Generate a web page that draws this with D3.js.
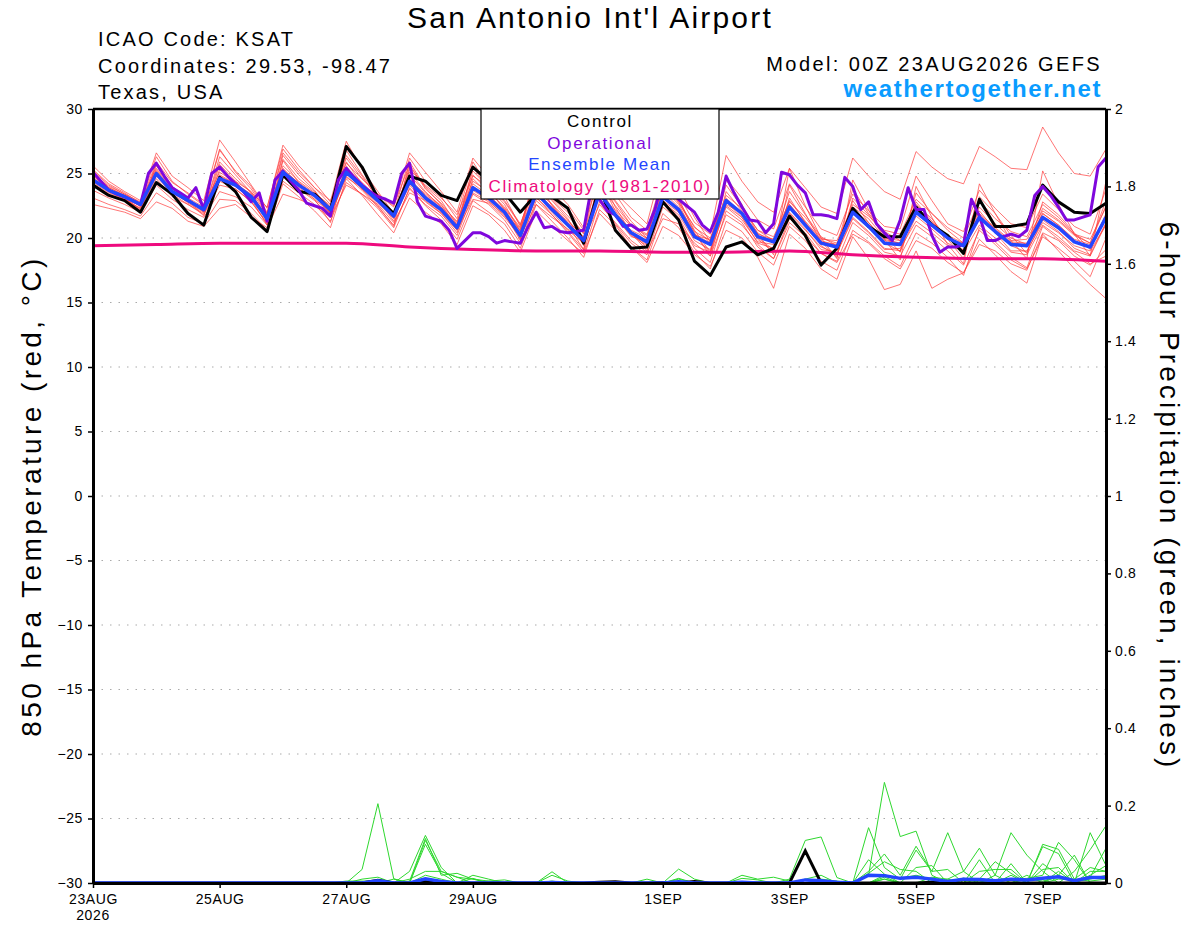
<!DOCTYPE html>
<html>
<head>
<meta charset="utf-8">
<script src="https://cdn.jsdelivr.net/npm/d3@7.9.0/dist/d3.min.js"></script>
<style>
  body { margin: 0; background: #fff; }
  svg { display: block; font-family: "Liberation Sans", Arial, Helvetica, sans-serif; }
</style>
</head>
<body>
<svg id="chart" width="1200" height="927"></svg>
<script>
// ========= Data (6-hourly from 00Z 23AUG2026, 65 steps) =========
const controlTemp = [
  24.1,23.3,22.9,22.0, 24.3,23.4,21.9,21.0, 24.7,23.6,21.6,20.5, 24.9,23.6,23.4,22.2,
  27.1,25.5,23.1,21.9, 24.8,24.4,23.3,22.9, 25.5,24.4,23.5,22.0, 23.4,23.2,22.3,19.6,
  24.0,20.6,19.2,19.3, 22.8,21.4,18.2,17.1, 19.3,19.7,18.7,19.2, 21.7,20.2,17.9,19.2,
  22.3,20.9,20.1,20.1, 22.4,21.0,20.2,18.8, 23.0,20.9,20.9,21.1, 24.1,22.8,22.0,21.9,
  22.7
];

const meanTemp = [
  24.5,23.7,23.2,22.6, 25.0,23.6,22.9,22.2, 24.6,24.1,23.2,21.5, 25.1,24.1,23.3,22.2,
  25.1,24.0,22.9,21.7, 24.4,23.1,22.2,20.8, 23.9,23.1,22.0,20.2, 23.5,22.2,21.0,19.8,
  23.5,21.8,20.4,19.7, 23.2,22.2,20.1,19.5, 22.9,21.9,20.1,19.7, 22.4,21.0,19.6,19.3,
  22.0,20.9,19.6,19.5, 22.0,21.0,20.0,19.4, 21.6,20.5,19.5,19.4, 21.6,20.8,19.7,19.3,
  21.6
];

// operational run is 3-hourly (129 steps)
const operationalTemp = [
  25.1,24.4,23.7,23.4,23.2,22.9,22.6,25.0,25.8,
  24.8,23.9,23.5,23.1,23.9,22.2,25.0,25.5,
  24.8,24.2,23.6,22.8,23.5,21.3,24.5,25.2,
  24.4,23.7,22.7,22.5,22.3,21.7,24.5,25.4,
  24.7,24.1,23.6,23.2,23.0,22.7,25.0,25.8,
  22.8,21.7,21.5,21.3,20.6,19.2,19.8,20.4,
  20.4,20.1,19.6,19.8,19.7,19.6,20.9,22.0,
  20.8,20.9,20.5,20.4,20.5,20.6,24.0,23.0,
  22.1,21.8,20.9,21.0,20.6,20.7,22.2,24.5,
  23.8,23.0,22.5,22.0,21.0,20.5,22.0,24.8,
  23.5,22.4,21.4,21.3,20.4,21.1,25.1,24.9,
  24.1,23.5,21.8,21.8,21.7,21.5,24.7,24.0,
  22.2,22.8,21.1,20.4,19.8,21.4,23.9,22.2,
  22.2,20.2,18.9,19.3,19.3,19.5,23.0,21.7,
  19.8,19.8,20.1,20.3,20.1,20.6,23.3,24.0,
  23.3,22.4,21.4,21.4,21.6,21.8,25.5,26.2
];

// climatology, daily at 00Z (17 days)
const climoTemp = [19.4,19.5,19.6,19.6,19.6,19.3,19.1,19.0,19.0,18.9,18.9,19.0,18.7,18.5,18.4,18.4,18.2];

const memberTemps = [
  [25.6,24.4,23.6,22.9, 26.6,24.8,23.9,22.9, 27.6,25.9,24.1,22.3, 27.2,25.6,24.3,22.8,
   27.5,25.3,23.6,21.9, 26.2,24.4,23.2,21.5, 25.9,24.0,22.8,21.0, 24.8,23.1,22.0,20.3,
   25.2,22.9,21.3,20.0, 24.4,22.7,20.9,19.6, 24.1,22.4,20.6,19.8, 23.6,21.8,20.1,19.4,
   23.8,21.9,20.5,19.8, 22.8,21.3,20.1,19.0, 22.4,21.1,20.0,19.5, 22.3,21.4,20.3,19.6, 22.9],
  [24.9,23.9,23.3,22.4, 25.6,24.0,23.1,22.1, 25.9,24.6,23.5,21.4, 26.1,24.6,23.6,22.3,
   26.4,24.8,23.0,21.3, 25.1,23.6,22.4,20.6, 24.6,23.4,21.9,19.8, 24.1,22.6,21.1,19.5,
   24.6,22.1,20.5,19.2, 23.9,22.6,20.3,18.8, 23.6,22.1,20.0,19.1, 23.1,21.2,19.4,18.6,
   22.9,21.2,19.6,19.0, 23.5,21.9,20.6,19.6, 22.1,20.6,19.4,18.9, 21.4,20.5,19.2,18.7, 21.2],
  [22.6,22.3,22.0,21.5, 22.8,22.3,21.3,20.9, 22.3,22.6,21.6,20.8, 23.4,23.0,22.5,21.6,
   24.1,23.4,22.6,21.2, 23.5,22.9,21.9,20.6, 23.0,22.7,21.6,20.1, 22.6,21.6,20.7,19.8,
   22.6,21.2,19.8,18.9, 21.5,21.1,19.6,18.6, 21.8,21.0,19.5,18.4, 21.2,20.1,18.8,18.1,
   20.3,19.6,18.4,17.6, 19.8,19.2,18.1,17.3, 19.5,19.0,18.0,17.5, 20.4,19.8,18.6,17.9, 19.1],
  [25.3,24.2,23.5,22.7, 26.3,24.4,23.4,22.5, 26.8,25.2,24.0,22.0, 26.6,25.1,23.9,22.9,
   25.8,24.6,23.4,22.4, 26.6,25.1,23.6,22.0, 26.2,24.7,23.2,20.9, 24.9,23.5,22.3,20.6,
   26.1,23.4,21.6,20.6, 24.7,23.3,21.2,20.3, 26.4,24.4,22.8,22.0, 25.4,23.9,22.4,21.9,
   26.2,24.8,23.6,23.0, 26.7,25.5,24.6,24.2, 27.1,26.3,25.4,25.3, 28.6,26.6,25.0,24.8, 26.9],
  [24.2,23.4,22.9,22.3, 24.6,23.2,22.6,21.8, 24.1,23.8,22.8,21.1, 24.9,23.8,22.9,21.7,
   24.8,23.7,22.4,21.0, 23.8,22.6,21.7,20.2, 23.4,22.6,21.4,19.6, 22.9,21.8,20.4,18.9,
   22.8,21.1,19.6,18.7, 22.4,21.4,19.2,18.1, 22.1,21.2,19.3,18.4, 21.5,20.4,18.8,18.2,
   21.2,20.2,18.9,18.6, 21.0,20.1,19.0,17.9, 20.6,19.5,18.3,17.6, 20.1,19.2,18.2,17.0, 20.0],
  [25.0,24.0,23.4,22.8, 25.4,23.9,23.1,22.4, 25.1,24.3,23.3,21.6, 25.6,24.4,23.5,22.5,
   25.9,24.2,23.0,21.8, 25.3,24.1,23.1,21.8, 24.8,24.0,22.9,21.1, 24.3,23.0,21.7,20.4,
   24.1,22.5,21.0,20.3, 23.8,22.9,20.8,20.0, 23.3,22.3,20.6,20.1, 22.8,21.6,20.0,19.6,
   22.6,21.7,20.6,20.3, 23.0,21.9,20.8,20.0, 22.9,21.5,20.5,20.1, 22.6,21.6,20.3,19.9, 22.4],
  [23.1,22.6,22.2,21.7, 23.5,22.7,21.6,21.1, 23.0,22.9,21.9,20.6, 24.2,23.2,22.1,20.8,
   24.6,23.3,21.8,20.4, 23.1,22.0,21.1,19.5, 22.5,21.8,20.6,18.9, 22.1,20.9,19.8,18.8,
   21.9,20.6,19.3,18.1, 20.9,20.2,18.7,17.8, 20.6,20.0,18.5,16.1, 20.3,19.2,17.6,16.8,
   20.1,18.4,16.0,16.4, 19.0,16.1,16.8,17.3, 19.9,18.7,17.4,16.5, 20.3,19.0,17.6,16.4, 15.3],
  [24.7,23.8,23.2,22.5, 25.2,23.7,22.7,22.0, 26.3,24.9,23.5,22.4, 26.9,25.3,23.9,22.6,
   26.2,24.6,23.4,22.5, 25.7,23.8,22.7,21.2, 25.2,23.9,22.6,20.5, 25.4,23.9,22.6,20.8,
   24.9,23.5,22.3,21.1, 25.8,23.9,21.6,19.7, 24.6,23.1,21.4,20.7, 24.2,22.4,20.7,20.2,
   23.4,22.1,20.9,20.7, 24.8,22.9,21.1,20.5, 23.7,22.3,21.1,20.8, 23.4,22.2,20.9,20.3, 23.8],
  [24.4,23.6,23.0,22.5, 25.0,23.5,22.8,22.3, 24.6,24.0,23.0,21.9, 25.4,24.2,23.2,21.9,
   25.0,23.8,22.7,21.5, 24.1,22.8,21.9,20.4, 23.7,22.9,21.7,20.3, 23.1,22.0,20.6,19.6,
   23.4,21.6,20.2,19.4, 22.8,21.8,19.8,19.1, 22.5,21.6,19.6,19.2, 22.0,20.7,19.1,18.9,
   21.6,20.5,19.2,19.0, 21.7,20.7,19.6,18.9, 21.0,20.0,18.9,18.7, 21.0,20.1,19.0,18.6, 21.1],
  [24.8,23.9,23.3,22.7, 25.3,23.8,23.0,22.0, 25.3,24.4,23.6,21.8, 25.2,24.3,23.4,21.9,
   24.7,23.9,22.8,21.7, 24.9,23.5,22.5,21.3, 24.4,23.6,22.4,20.8, 23.7,22.6,21.4,20.0,
   23.3,22.2,20.9,20.2, 23.6,22.4,20.5,19.8, 23.0,22.0,20.4,19.6, 22.9,21.3,19.9,19.8,
   22.4,21.5,20.0,19.8, 22.3,21.2,20.1,19.4, 21.9,20.8,19.8,19.9, 22.1,21.3,20.2,19.6, 22.5],
  [24.3,23.5,23.0,22.3, 24.8,23.4,22.6,21.9, 24.4,23.8,22.8,21.2, 24.7,23.9,23.0,22.0,
   25.2,24.1,22.9,21.6, 24.2,23.0,22.0,20.7, 23.5,22.8,21.8,20.0, 23.2,21.8,20.5,19.1,
   23.9,21.9,20.3,19.5, 22.9,21.6,19.4,18.9, 22.4,21.4,19.7,19.5, 21.9,20.6,19.3,18.8,
   21.5,20.4,19.1,19.2, 21.3,20.4,19.4,19.1, 21.5,20.4,19.0,19.0, 21.2,20.4,19.4,19.0, 21.0],
  [24.6,23.7,23.1,22.2, 24.9,23.6,22.8,22.1, 24.9,24.2,23.2,21.3, 25.0,24.0,23.2,22.1,
   25.3,24.1,22.9,21.9, 24.6,23.3,22.3,21.0, 24.0,23.1,22.0,20.6, 23.6,22.4,21.2,19.9,
   23.7,21.7,20.1,19.8, 23.4,22.0,20.2,19.9, 23.1,21.9,20.1,19.9, 22.6,21.1,19.7,19.5,
   21.9,21.0,19.8,19.6, 22.2,21.1,19.9,19.6, 21.7,20.6,19.6,19.5, 21.9,21.0,19.8,19.2, 21.5],
  [25.2,24.1,23.4,22.6, 25.9,24.3,23.5,22.6, 26.9,25.1,23.8,21.9, 26.4,24.9,23.7,22.0,
   26.8,24.9,23.3,21.6, 25.5,24.0,22.9,21.0, 24.9,23.6,22.3,20.7, 24.5,22.9,21.5,19.4,
   24.3,22.8,21.0,19.9, 24.9,23.1,20.4,18.6, 22.8,21.6,19.9,18.9, 24.1,21.9,19.7,18.5,
   23.1,21.8,20.2,18.9, 22.6,21.5,19.9,18.4, 23.2,21.9,20.2,18.8, 22.8,21.8,20.4,19.1, 21.9],
  [23.7,23.1,22.6,22.0, 24.1,23.0,22.2,21.6, 23.6,23.2,22.4,21.0, 24.4,23.5,22.6,21.3,
   24.3,23.4,22.3,20.8, 23.9,22.5,21.4,19.9, 22.9,22.0,21.1,19.2, 22.6,21.3,20.0,18.5,
   22.2,21.0,19.3,18.3, 21.9,20.8,18.9,17.6, 21.3,20.5,18.9,17.9, 20.9,19.8,18.2,17.5,
   20.6,19.7,18.6,17.8, 20.4,19.6,18.5,17.1, 20.8,19.7,18.5,17.7, 20.9,19.9,18.9,18.0, 18.6],
  [24.9,23.8,23.1,22.1, 25.8,23.9,22.9,21.7, 25.7,24.4,23.0,21.0, 26.0,24.3,23.0,21.2,
   25.6,23.8,22.5,20.9, 25.9,23.9,22.6,20.8, 25.5,23.8,22.2,19.9, 24.5,22.5,21.0,19.1,
   25.0,22.4,20.4,19.0, 24.8,22.8,20.6,18.9, 24.5,22.6,20.3,18.7, 25.4,22.5,20.0,18.4,
   24.5,22.2,19.9,18.3, 24.0,21.6,19.5,18.0, 24.2,21.9,19.8,18.4, 25.2,22.6,20.3,18.6, 24.4],
  [24.5,23.6,23.1,22.6, 25.0,23.5,22.9,22.2, 24.8,24.2,23.4,21.7, 25.3,24.2,23.3,22.3,
   25.5,24.3,23.1,21.8, 24.5,23.4,22.4,21.1, 24.2,23.3,22.2,20.5, 23.4,22.3,21.3,20.1,
   23.8,21.9,20.6,20.0, 22.9,22.0,20.3,19.6, 22.6,21.9,20.3,19.9, 22.6,21.2,19.8,19.4,
   22.3,21.2,19.9,19.6, 22.3,21.2,20.2,19.6, 21.8,20.7,19.7,19.6, 21.9,21.0,19.9,19.5, 21.7]
];

// 6-hour precipitation (inches)
const controlPrecip = [
  0,0,0,0, 0,0,0,0, 0,0,0,0, 0,0,0,0,
  0,0,0.007,0, 0,0.003,0,0, 0,0,0,0, 0,0,0,0,
  0.002,0.003,0,0, 0.001,0,0.004,0, 0,0,0,0, 0,0.083,0,0,
  0,0,0,0, 0,0.002,0.001,0, 0,0,0,0, 0,0,0,0, 0
];

const meanPrecip = [
  0,0,0,0, 0,0,0,0, 0,0,0,0, 0,0,0,0,
  0,0,0.006,0, 0,0.011,0.004,0, 0,0,0,0, 0,0.001,0,0,
  0,0,0,0, 0,0.003,0,0, 0,0.002,0,0, 0,0.008,0.006,0.002,
  0,0.02,0.019,0.012, 0.015,0.01,0.004,0.01, 0.009,0.006,0.01,0.008, 0.012,0.016,0.006,0.014, 0.014
];

const memberPrecips = [
  [0,0,0,0, 0,0,0,0, 0,0,0,0, 0,0,0,0,
   0,0.035,0.205,0.011, 0,0.02,0.01,0, 0,0,0,0, 0,0,0,0,
   0,0,0,0, 0,0,0,0, 0,0,0,0, 0.01,0.11,0.119,0.014,
   0,0.02,0.26,0.12, 0.134,0.02,0,0, 0.06,0,0.02,0, 0.094,0.076,0,0.02, 0.045],
  [0,0,0,0, 0,0,0,0, 0,0,0,0, 0,0,0,0,
   0,0,0,0, 0.03,0.123,0.04,0, 0.02,0.01,0,0, 0,0.029,0,0,
   0,0,0,0, 0,0.036,0.01,0, 0,0,0,0, 0,0,0,0,
   0,0.143,0.04,0.01, 0.085,0.03,0.13,0.03, 0,0,0.05,0, 0,0.03,0,0.13, 0.045],
  [0,0,0,0, 0,0,0,0, 0,0,0,0, 0,0,0,0,
   0,0,0,0, 0.005,0.115,0.02,0.025, 0.01,0.005,0,0, 0,0,0,0,
   0,0,0,0, 0,0.012,0,0, 0,0,0,0, 0,0,0,0,
   0,0.06,0.023,0, 0.04,0.045,0,0.013, 0,0.02,0.13,0.072, 0.03,0,0.03,0.086, 0.148],
  [0,0,0,0, 0,0,0,0, 0,0,0,0, 0,0,0,0,
   0,0,0.003,0, 0,0.11,0.03,0.015, 0.01,0,0,0, 0,0.02,0.005,0,
   0,0,0,0, 0,0,0,0, 0,0,0,0, 0,0.01,0.02,0,
   0,0.03,0.075,0.02, 0.095,0.03,0.035,0, 0.03,0.035,0.035,0, 0.1,0.087,0.01,0.04, 0.03],
  [0,0,0,0, 0,0,0,0, 0,0,0,0, 0,0,0,0,
   0,0.01,0.015,0, 0,0.1,0.025,0, 0,0,0,0, 0,0.005,0,0,
   0,0,0,0, 0,0,0,0, 0,0.02,0.01,0.015, 0.005,0,0,0,
   0,0,0.01,0, 0,0,0.01,0.03, 0.09,0.02,0,0.02, 0,0.02,0.072,0, 0],
  [0,0,0,0, 0,0,0,0, 0,0,0,0, 0,0,0,0,
   0.005,0.005,0.005,0, 0.01,0.03,0.03,0.015, 0,0,0,0, 0,0,0,0,
   0,0,0,0, 0,0.01,0,0, 0,0,0,0, 0,0,0,0,
   0,0.025,0.055,0.035, 0.03,0,0,0, 0.01,0.055,0.025,0, 0.035,0.04,0,0.015, 0.09],
  [0,0,0,0, 0,0,0,0, 0,0,0,0, 0,0,0.002,0,
   0,0,0,0, 0,0,0.005,0, 0.012,0,0,0, 0,0,0,0,
   0,0,0,0, 0,0,0,0, 0,0.012,0.008,0, 0,0,0,0,
   0,0,0.01,0, 0,0,0,0, 0,0,0,0, 0.05,0.02,0,0.03, 0.03],
  [0,0,0,0, 0,0,0,0, 0,0,0,0, 0,0,0,0,
   0,0,0,0, 0,0,0,0, 0,0,0,0, 0,0,0,0,
   0,0,0,0.01, 0,0,0,0, 0,0,0,0, 0,0,0.005,0,
   0,0,0.02,0.012, 0.02,0.01,0.005,0, 0,0,0.01,0.012, 0.02,0.105,0.06,0, 0],
  [0,0,0,0, 0,0,0,0, 0,0,0,0, 0,0,0,0,
   0,0,0,0.01, 0,0.01,0.005,0, 0,0.005,0.008,0, 0,0,0,0,
   0,0,0,0, 0,0,0,0, 0,0,0,0, 0,0,0,0,
   0,0,0,0, 0,0.015,0.01,0, 0,0,0,0, 0,0.01,0.01,0.005, 0.01],
  [0,0,0,0, 0,0,0,0, 0,0,0,0, 0,0,0,0,
   0,0,0,0, 0,0.005,0,0, 0,0,0,0, 0,0,0,0,
   0,0,0,0, 0.002,0,0,0, 0,0,0,0, 0,0,0.01,0.005,
   0,0,0.015,0, 0,0.005,0,0.01, 0.005,0,0,0.01, 0.005,0.015,0.005,0.01, 0.02]
];

// axis labels
const tempTicks = [30,25,20,15,10,5,0,-5,-10,-15,-20,-25,-30];
const precipTicks = [2,1.8,1.6,1.4,1.2,1,0.8,0.6,0.4,0.2,0];
const dateTicks = ["2026-08-23","2026-08-25","2026-08-27","2026-08-29","2026-09-01","2026-09-03","2026-09-05","2026-09-07"];

// ========= Setup =========
const svg = d3.select("#chart");
const plotLeft = 93, plotRight = 1106, plotTop = 109, plotBottom = 883;
const HOUR = 3600 * 1000;
const start = Date.UTC(2026, 7, 23);

const x = d3.scaleUtc()
  .domain([new Date(start), new Date(start + 384 * HOUR)])
  .range([plotLeft, plotRight]);
const yT = d3.scaleLinear().domain([-30, 30]).range([plotBottom, plotTop]);
const yP = d3.scaleLinear().domain([0, 2]).range([plotBottom, plotTop]);

const t6 = (i) => new Date(start + i * 6 * HOUR);
const t3 = (i) => new Date(start + i * 3 * HOUR);
const t24 = (i) => new Date(start + i * 24 * HOUR);

svg.append("defs").append("clipPath").attr("id", "plot-clip")
  .append("rect").attr("x", plotLeft).attr("y", plotTop - 1)
  .attr("width", plotRight - plotLeft).attr("height", plotBottom - plotTop + 1);

// ---- grid ----
svg.append("g")
  .selectAll("line")
  .data(tempTicks.filter((d) => d !== 30 && d !== -30))
  .join("line")
  .attr("x1", plotLeft).attr("x2", plotRight)
  .attr("y1", (d) => yT(d)).attr("y2", (d) => yT(d))
  .attr("stroke", "#aaa").attr("stroke-width", 1.2)
  .attr("stroke-dasharray", "1.5,7");

const plot = svg.append("g").attr("clip-path", "url(#plot-clip)");

const lineT6 = d3.line().x((d, i) => x(t6(i))).y((d) => yT(d));
const lineT3 = d3.line().x((d, i) => x(t3(i))).y((d) => yT(d));
const lineP6 = d3.line().x((d, i) => x(t6(i))).y((d) => yP(d));
const lineClimo = d3.line().x((d, i) => x(t24(i))).y((d) => yT(d)).curve(d3.curveMonotoneX);

// ---- ensemble members ----
memberTemps.forEach((m) => {
  plot.append("path").attr("d", lineT6(m))
    .attr("fill", "none").attr("stroke", "#ff3b3b")
    .attr("stroke-opacity", 0.7).attr("stroke-width", 1);
});
memberPrecips.forEach((m) => {
  plot.append("path").attr("d", lineP6(m))
    .attr("fill", "none").attr("stroke", "#2ed82e")
    .attr("stroke-width", 1);
});

// ---- climatology / control / operational / mean ----
plot.append("path").attr("d", lineClimo(climoTemp))
  .attr("fill", "none").attr("stroke", "#ee0a7e").attr("stroke-width", 3);

plot.append("path").attr("d", lineT6(controlTemp))
  .attr("fill", "none").attr("stroke", "#000").attr("stroke-width", 3)
  .attr("stroke-linejoin", "round");
plot.append("path").attr("d", lineT3(operationalTemp))
  .attr("fill", "none").attr("stroke", "#7f07dd").attr("stroke-width", 3)
  .attr("stroke-linejoin", "round");
plot.append("path").attr("d", lineT6(meanTemp))
  .attr("fill", "none").attr("stroke", "#2346ff").attr("stroke-width", 3.5)
  .attr("stroke-linejoin", "round");

plot.append("path").attr("d", lineP6(controlPrecip))
  .attr("fill", "none").attr("stroke", "#000").attr("stroke-width", 3);
plot.append("path").attr("d", lineP6(meanPrecip))
  .attr("fill", "none").attr("stroke", "#2346ff").attr("stroke-width", 3.5);

// ---- axes ----
const axisL = svg.append("g").attr("transform", `translate(${plotLeft},0)`)
  .call(d3.axisLeft(yT).tickValues(tempTicks).tickSize(5).tickSizeOuter(0).tickPadding(5));
const axisR = svg.append("g").attr("transform", `translate(${plotRight},0)`)
  .call(d3.axisRight(yP).tickValues(precipTicks).tickSize(5).tickSizeOuter(0).tickPadding(4)
    .tickFormat((d) => String(d)));
const axisB = svg.append("g").attr("transform", `translate(0,${plotBottom})`)
  .call(d3.axisBottom(x).tickValues(dateTicks.map((d) => new Date(d + "T00:00:00Z")))
    .tickSize(5).tickSizeOuter(0).tickPadding(6)
    .tickFormat((d) => d3.utcFormat("%-d%b")(d).toUpperCase()));

[axisL, axisR, axisB].forEach((a) => {
  a.select(".domain").attr("stroke", "#000").attr("stroke-width", 3);
  a.selectAll(".tick line").attr("stroke", "#000").attr("stroke-width", 1.5);
  a.selectAll("text").attr("font-size", 14).attr("fill", "#000")
    .attr("letter-spacing", 0.6)
    .attr("font-family", "Liberation Sans, Arial, sans-serif");
});

svg.append("line")
  .attr("x1", plotLeft).attr("x2", plotRight).attr("y1", plotTop).attr("y2", plotTop)
  .attr("stroke", "#000").attr("stroke-width", 2.5);

svg.append("text").attr("x", x(t6(0))).attr("y", 920)
  .attr("text-anchor", "middle").attr("font-size", 14).attr("letter-spacing", 0.6)
  .text("2026");

// ---- legend ----
const legend = svg.append("g");
legend.append("rect")
  .attr("x", 481).attr("y", plotTop).attr("width", 238).attr("height", 90)
  .attr("fill", "#fff").attr("stroke", "#000").attr("stroke-width", 1.2);
[
  ["Control", "#000"],
  ["Operational", "#7f07dd"],
  ["Ensemble Mean", "#2346ff"],
  ["Climatology (1981-2010)", "#ee0a7e"],
].forEach(([label, color], i) => {
  legend.append("text")
    .attr("x", 600).attr("y", 127 + i * 21.5)
    .attr("text-anchor", "middle").attr("font-size", 17)
    .attr("letter-spacing", 1.6)
    .attr("fill", color).text(label);
});

// ---- titles ----
svg.append("text").attr("x", 590).attr("y", 28)
  .attr("text-anchor", "middle").attr("font-size", 30).attr("letter-spacing", 2.2)
  .text("San Antonio Int'l Airport");

["ICAO Code: KSAT", "Coordinates: 29.53, -98.47", "Texas, USA"].forEach((s, i) => {
  svg.append("text").attr("x", 98).attr("y", 46 + i * 26.7)
    .attr("font-size", 20).attr("letter-spacing", 2.2).text(s);
});

svg.append("text").attr("x", 1102).attr("y", 71)
  .attr("text-anchor", "end").attr("font-size", 20).attr("letter-spacing", 2.4)
  .text("Model: 00Z 23AUG2026 GEFS");
svg.append("text").attr("x", 1102).attr("y", 97)
  .attr("text-anchor", "end").attr("font-size", 24).attr("font-weight", "bold")
  .attr("letter-spacing", 1.6)
  .attr("fill", "#0a9cff").text("weathertogether.net");

svg.append("text")
  .attr("transform", `translate(41,${(plotTop + plotBottom) / 2}) rotate(-90)`)
  .attr("text-anchor", "middle").attr("font-size", 28).attr("letter-spacing", 3.4)
  .text("850 hPa Temperature (red, °C)");
svg.append("text")
  .attr("transform", `translate(1160,${(plotTop + plotBottom) / 2}) rotate(90)`)
  .attr("text-anchor", "middle").attr("font-size", 28).attr("letter-spacing", 3.1)
  .text("6-hour Precipitation (green, inches)");
</script>
</body>
</html>
